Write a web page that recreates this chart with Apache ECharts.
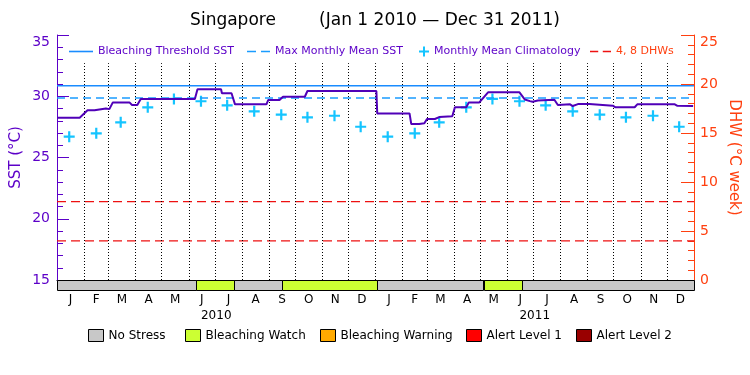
<!DOCTYPE html>
<html><head><meta charset="utf-8">
<script src="https://cdn.jsdelivr.net/npm/echarts@6/dist/echarts.min.js"></script>
<style>html,body{margin:0;padding:0;background:#fff}#c{width:750px;height:375px}</style>
</head><body><div id="c"></div>
<script>
// ---- data ----
const MONTH_LABELS = ['J','F','M','A','M','J','J','A','S','O','N','D'];
const YEARS = [2010, 2011];
const X_MIN = '2010-01-01';
const X_MAX = '2012-01-01';
const CLIM_MONTHLY = [26.70, 26.97, 27.87, 29.10, 29.78, 29.59, 29.26, 28.77, 28.50, 28.28, 28.41, 27.51];
const MMM = 29.85;
const THRESHOLD = 30.85;
const DHW_LEVELS = [4, 8];
const SST_DATES = ['2010-01-01','2010-01-27','2010-02-05','2010-02-13','2010-02-14','2010-02-26','2010-02-28','2010-03-02','2010-03-06','2010-03-25','2010-03-28','2010-04-03','2010-04-07','2010-06-08','2010-06-11','2010-07-08','2010-07-09','2010-07-20','2010-07-24','2010-08-29','2010-08-31','2010-09-13','2010-09-17','2010-10-12','2010-10-15','2011-01-02','2011-01-03','2011-02-09','2011-02-11','2011-02-20','2011-02-26','2011-03-01','2011-03-10','2011-03-15','2011-03-30','2011-04-02','2011-04-15','2011-04-18','2011-04-30','2011-05-10','2011-06-15','2011-06-21','2011-06-27','2011-06-30','2011-07-06','2011-07-08','2011-07-25','2011-07-29','2011-08-12','2011-08-15','2011-08-17','2011-08-21','2011-09-03','2011-09-05','2011-09-30','2011-10-03','2011-10-25','2011-10-28','2011-12-10','2011-12-13','2011-12-31'];
const SST_VALUES = [28.25,28.25,28.85,28.85,29.0,29.0,28.9,28.95,29.5,29.5,29.29,29.29,29.78,29.78,30.57,30.57,30.24,30.24,29.34,29.34,29.69,29.69,29.96,29.96,30.43,30.43,28.6,28.6,27.73,27.73,27.8,28.14,28.14,28.3,28.36,29.1,29.1,29.5,29.5,30.32,30.32,29.74,29.6,29.55,29.66,29.72,29.72,29.29,29.34,29.2,29.2,29.36,29.36,29.23,29.23,29.1,29.1,29.34,29.34,29.22,29.2];
const STRESS_NAMES = ['No Stress','Bleaching Watch','Bleaching Warning','Alert Level 1','Alert Level 2'];
const STRESS_COLORS = ['#c8c8c8','#ccff33','#ffaa00','#ff0000','#990000'];
const STRESS_START = ['2010-01-01','2010-06-09','2010-07-22','2010-09-16','2011-01-03','2011-05-05','2011-06-17'];
const STRESS_END   = ['2010-06-09','2010-07-22','2010-09-16','2011-01-03','2011-05-05','2011-06-17','2012-01-01'];
const STRESS_LEVEL = [0,1,0,1,0,1,0];

// ---- helpers ----
const t = s => { const [Y,M,D] = s.split('-').map(Number); return new Date(Y, M-1, D).getTime(); };
const pad = n => (n < 10 ? '0' : '') + n;
const FONT = 'DejaVu Sans';
const PURPLE = '#5c00c8';
const ORANGE = '#ff4010';
const THR_BLUE = '#1a8cff';
const MMM_BLUE = '#1a9cff';
const DHW_RED = '#ee1111';
const tMin = t(X_MIN), tMax = t(X_MAX);

const climData = [];
YEARS.forEach(y => CLIM_MONTHLY.forEach((v, m) => climData.push([t(y + '-' + pad(m+1) + '-15'), v])));
const monthMids = [];
YEARS.forEach(y => { for (let m = 0; m < 12; m++) { const a = new Date(y, m, 1).getTime(), b = new Date(y, m+1, 1).getTime(); monthMids.push((a+b)/2); } });
const yearMids = YEARS.map(y => (new Date(y,0,1).getTime() + new Date(y+1,0,1).getTime())/2);
const monthLines = [];
YEARS.forEach(y => { for (let m = 0; m < 12; m++) { if (y === YEARS[0] && m === 0) continue; const d = new Date(y, m, 1).getTime(); monthLines.push([{coord:[d, 15]}, {coord:[d, 32.7]}]); } });

const PLUS = 'path://M4,0h2v4h4v2h-4v4h-2v-4h-4v-2h4z';
const SOLID_ICON = 'path://M0,0h24v1.6h-24z';
const DASH_ICON = 'path://M0,0h9v1.6h-9zM14,0h9v1.6h-9z';

const stressSeries = STRESS_NAMES.map((name, lvl) => ({
  name, type: 'custom', xAxisIndex: 1, yAxisIndex: 2, silent: true,
  itemStyle: { color: STRESS_COLORS[lvl], borderColor: '#000', borderWidth: 1 },
  encode: { x: [0, 1] },
  data: STRESS_LEVEL.map((l, i) => l === lvl ? [t(STRESS_START[i]), t(STRESS_END[i])] : null).filter(Boolean),
  renderItem: (params, api) => {
    const p0 = api.coord([api.value(0), 1]);
    const p1 = api.coord([api.value(1), 0]);
    return { type: 'rect', shape: { x: Math.round(p0[0]) + 0.5, y: Math.round(p0[1]) + 0.5, width: Math.round(p1[0] - p0[0]), height: Math.round(p1[1] - p0[1]) },
      style: { fill: STRESS_COLORS[lvl], stroke: '#000', lineWidth: 1 } };
  }
}));

const topLegend = (name, left, w, color, icon) => ({
  data: [{ name, icon, textStyle: { color } }], left, top: 46, padding: 0, itemGap: 0,
  itemWidth: w, itemHeight: 10, selectedMode: false, symbolKeepAspect: true,
  textStyle: { fontFamily: FONT, fontSize: 11, color }
});
const botLegendLefts = [88, 185, 320, 466, 576];
const botLegends = STRESS_NAMES.map((name, i) => ({
  data: [{ name, icon: 'rect' }], left: botLegendLefts[i], top: 329, padding: 0,
  itemWidth: 15, itemHeight: 12, selectedMode: false, itemGap: 0,
  itemStyle: { borderColor: '#000', borderWidth: 1 },
  textStyle: { fontFamily: FONT, fontSize: 12, color: '#000' }
}));

const chart = echarts.init(document.getElementById('c'), null, { renderer: 'canvas' });
chart.setOption({
  animation: false,
  backgroundColor: '#fff',
  title: { text: 'Singapore        (Jan 1 2010 \u2014 Dec 31 2011)', left: 'center', top: 12, padding: 0,
    textStyle: { fontFamily: FONT, fontSize: 17, fontWeight: 'normal', color: '#000' } },
  legend: [
    topLegend('Bleaching Threshold SST', 69, 24, PURPLE, SOLID_ICON),
    topLegend('Max Monthly Mean SST', 247, 23, PURPLE, DASH_ICON),
    topLegend('Monthly Mean Climatology', 419, 10, PURPLE, PLUS),
    topLegend('4, 8 DHWs', 590, 21, ORANGE, DASH_ICON)
  ].concat(botLegends),
  grid: [
    { left: 57, right: 56, top: 35, height: 245, outerBoundsMode: 'none' },
    { left: 57, right: 56, top: 280, height: 10, outerBoundsMode: 'none' }
  ],
  xAxis: [
    { type: 'value', gridIndex: 0, min: tMin, max: tMax, position: 'top',
      axisLine: { show: true, lineStyle: { color: '#000', width: 1 } }, axisTick: { show: false },
      axisLabel: { show: false }, splitLine: { show: false } },
    { type: 'value', gridIndex: 1, min: tMin, max: tMax, position: 'bottom',
      axisLine: { show: false }, axisTick: { show: false }, splitLine: { show: false },
      axisLabel: { customValues: monthMids, margin: 4, color: '#000', fontFamily: FONT, fontSize: 12,
        hideOverlap: false, formatter: v => MONTH_LABELS[new Date(v).getMonth()] } },
    { type: 'value', gridIndex: 1, min: tMin, max: tMax, position: 'bottom', offset: 16,
      axisLine: { show: false }, axisTick: { show: false }, splitLine: { show: false },
      axisLabel: { customValues: yearMids, margin: 4, color: '#000', fontFamily: FONT, fontSize: 12,
        hideOverlap: false, formatter: v => String(new Date(v).getFullYear()) } }
  ],
  yAxis: [
    { type: 'value', gridIndex: 0, position: 'left', min: 15, max: 35, interval: 5,
      axisLine: { show: true, lineStyle: { color: PURPLE, width: 1 } },
      axisTick: { show: true, inside: true, length: 12, lineStyle: { color: PURPLE } },
      minorTick: { show: true, splitNumber: 5, length: 6, lineStyle: { color: PURPLE } },
      axisLabel: { color: PURPLE, fontFamily: FONT, fontSize: 14, margin: 7, verticalAlignMaxLabel: 'top' },
      splitLine: { show: false },
      name: 'SST (\u00B0C)', nameLocation: 'middle', nameGap: 33, nameMoveOverlap: false,
      nameTextStyle: { color: PURPLE, fontFamily: FONT, fontSize: 15 } },
    { type: 'value', gridIndex: 0, position: 'right', min: 0, max: 25, interval: 5,
      axisLine: { show: true, lineStyle: { color: ORANGE, width: 1 } },
      axisTick: { show: true, inside: true, length: 13, lineStyle: { color: ORANGE } },
      minorTick: { show: true, splitNumber: 5, length: 6, lineStyle: { color: ORANGE } },
      axisLabel: { color: ORANGE, fontFamily: FONT, fontSize: 14, margin: 6, verticalAlignMaxLabel: 'top' },
      splitLine: { show: false },
      name: 'DHW (\u00B0C week)', nameLocation: 'middle', nameGap: 32, nameRotate: -90, nameMoveOverlap: false,
      nameTextStyle: { color: ORANGE, fontFamily: FONT, fontSize: 15 } },
    { type: 'value', gridIndex: 1, min: 0, max: 1, show: false }
  ],
  series: [
    { name: '4, 8 DHWs', type: 'line', xAxisIndex: 0, yAxisIndex: 1, symbol: 'none', silent: true,
      itemStyle: { color: DHW_RED }, lineStyle: { color: DHW_RED, width: 1.2, type: [9, 5] },
      data: [[tMin, DHW_LEVELS[0]], [tMax, DHW_LEVELS[0]]] },
    { name: '4, 8 DHWs', type: 'line', xAxisIndex: 0, yAxisIndex: 1, symbol: 'none', silent: true,
      itemStyle: { color: DHW_RED }, lineStyle: { color: DHW_RED, width: 1.2, type: [9, 5] },
      data: [[tMin, DHW_LEVELS[1]], [tMax, DHW_LEVELS[1]]] },
    { name: 'month grid', type: 'line', xAxisIndex: 0, yAxisIndex: 0, data: [], silent: true,
      markLine: { silent: true, symbol: 'none', label: { show: false },
        lineStyle: { color: '#000', width: 1, type: [1, 2] }, data: monthLines } },
    { name: 'Bleaching Threshold SST', type: 'line', xAxisIndex: 0, yAxisIndex: 0, symbol: 'none', silent: true,
      itemStyle: { color: THR_BLUE }, lineStyle: { color: THR_BLUE, width: 1.5 },
      data: [[tMin, THRESHOLD], [tMax, THRESHOLD]] },
    { name: 'Max Monthly Mean SST', type: 'line', xAxisIndex: 0, yAxisIndex: 0, symbol: 'none', silent: true,
      itemStyle: { color: MMM_BLUE }, lineStyle: { color: MMM_BLUE, width: 1.5, type: [8, 5] },
      data: [[tMin, MMM], [tMax, MMM]] },
    { name: 'Monthly Mean Climatology', type: 'scatter', xAxisIndex: 0, yAxisIndex: 0, silent: true,
      symbol: PLUS, symbolSize: 11, itemStyle: { color: '#14c4ff', opacity: 1 },
      data: climData },
    { name: 'SST', type: 'line', xAxisIndex: 0, yAxisIndex: 0, symbol: 'none', silent: true, z: 5,
      lineStyle: { color: '#5000b8', width: 2 },
      data: SST_DATES.map((d, i) => [t(d), SST_VALUES[i]]) }
  ].concat(stressSeries)
});
</script></body></html>
